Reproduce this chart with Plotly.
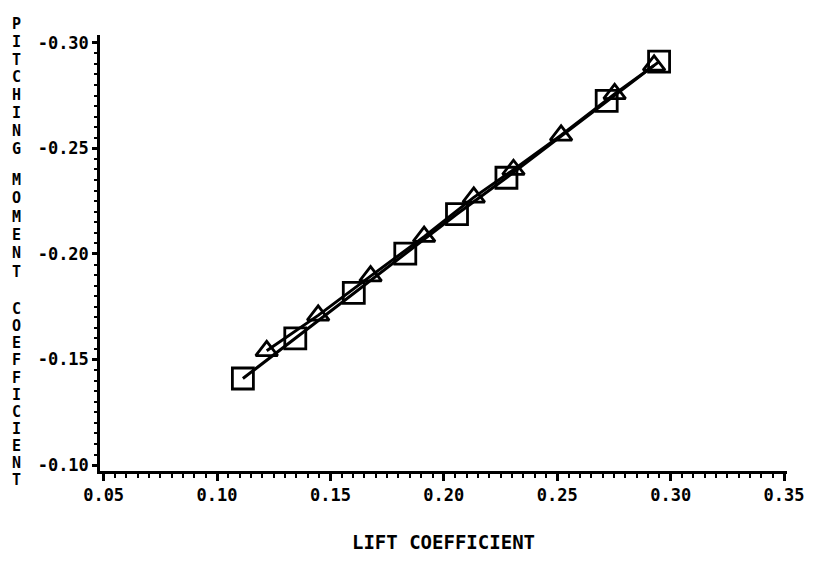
import plotly.graph_objects as go

# Series
sq_x = [0.1114, 0.1345, 0.1603, 0.1830, 0.2058, 0.2276, 0.2718, 0.2949]
sq_y = [-0.1410, -0.1600, -0.1816, -0.2002, -0.2189, -0.2361, -0.2725, -0.2911]

tri_x = [0.1219, 0.1446, 0.1677, 0.1913, 0.2132, 0.2307, 0.2517, 0.2753, 0.2927]
tri_y = [-0.1541, -0.1709, -0.1895, -0.2082, -0.2268, -0.2399, -0.2562, -0.2758, -0.2893]

x_ticks = [0.05, 0.10, 0.15, 0.20, 0.25, 0.30, 0.35]
y_ticks = [-0.30, -0.25, -0.20, -0.15, -0.10]
x_ticktext = ["0.05", "0.10", "0.15", "0.20", "0.25", "0.30", "0.35"]
y_ticktext = ["-0.30", "-0.25", "-0.20", "-0.15", "-0.10"]

y_title_words = ["PITCHING", "MOMENT", "COEFFICIENT"]

FONT = "DejaVu Sans Mono"
W, H = 817, 562
ML, MR, MT, MB = 100, 24, 35, 84
PH = H - MT - MB

fig = go.Figure()
fig.add_trace(go.Scatter(
    x=sq_x, y=sq_y, mode="lines+markers",
    line=dict(color="black", width=3),
    marker=dict(symbol="square-open", size=21, color="black",
                line=dict(color="black", width=2.8)),
    showlegend=False))
fig.add_trace(go.Scatter(
    x=tri_x, y=tri_y, mode="lines+markers",
    line=dict(color="black", width=3),
    marker=dict(symbol="triangle-up-open", size=19, color="black",
                line=dict(color="black", width=2.8)),
    showlegend=False))

fig.update_layout(
    width=W, height=H,
    margin=dict(l=ML, r=MR, t=MT, b=MB),
    paper_bgcolor="white", plot_bgcolor="white",
    font=dict(family=FONT, color="black", size=16),
    xaxis=dict(
        range=[0.0484, 0.3513],
        showline=True, linecolor="black", linewidth=2.5,
        ticks="outside", ticklen=7, tickwidth=2.5, tickcolor="black",
        tickvals=x_ticks, ticktext=x_ticktext,
        tickfont=dict(family=FONT, size=17, color="black", weight="bold"),
        minor=dict(dtick=0.005, tick0=0.05, ticks="outside", ticklen=4,
                   tickwidth=2.2, tickcolor="black"),
        showgrid=False, zeroline=False,
        title=dict(text="LIFT COEFFICIENT", standoff=32,
                   font=dict(family=FONT, size=19, color="black", weight="bold")),
    ),
    yaxis=dict(
        range=[-0.0972, -0.3037],
        showline=True, linecolor="black", linewidth=2.5,
        ticks="outside", ticklen=5, tickwidth=2.5, tickcolor="black",
        tickvals=y_ticks, ticktext=y_ticktext,
        tickfont=dict(family=FONT, size=17, color="black", weight="bold"),
        minor=dict(dtick=0.005, tick0=-0.30, ticks="outside", ticklen=3,
                   tickwidth=2.2, tickcolor="black"),
        showgrid=False, zeroline=False,
    ),
)

# stacked vertical title: first letter centre and step (pixels from top)
word_layout = [(23, 18.2), (182, 18.6), (313, 17.4)]
for word, (start, step) in zip(y_title_words, word_layout):
    for i, ch in enumerate(word):
        py = start + i * step
        fig.add_annotation(
            text=ch, xref="paper", yref="paper",
            x=(16 - ML) / (W - ML - MR), y=(H - MB - py) / PH,
            xanchor="center", yanchor="middle",
            height=15, borderpad=0,
            showarrow=False,
            font=dict(family=FONT, size=15, color="black", weight="bold"))

fig.write_html("out.html")
